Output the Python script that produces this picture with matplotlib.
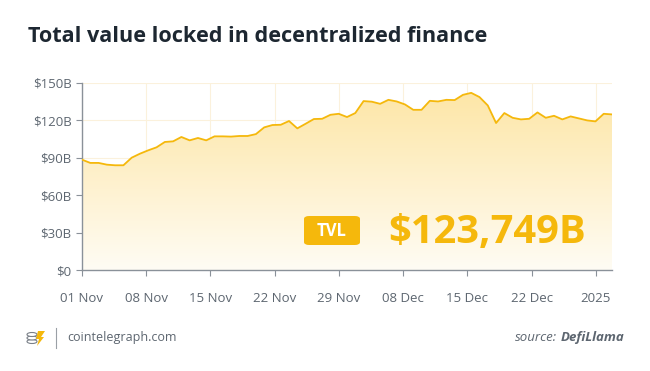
import numpy as np
import matplotlib.pyplot as plt
from matplotlib.patches import FancyBboxPatch, Ellipse, Polygon
from matplotlib.colors import LinearSegmentedColormap

# TVL in billions USD, roughly one point per day from 01 Nov
tvl = [88.5, 85.9, 85.9, 84.5, 84.0, 84.0, 90.1, 93.3, 96.0, 98.4,
       102.7, 103.2, 106.7, 104.0, 105.9, 104.0, 107.2, 107.2, 107.0, 107.5,
       107.5, 109.0, 114.4, 116.3, 116.5, 119.5, 113.6, 117.3, 121.1, 121.3,
       124.5, 125.3, 122.7, 125.9, 135.5, 135.0, 133.3, 136.5, 135.2, 132.8,
       128.5, 128.5, 135.7, 135.2, 136.5, 136.3, 140.5, 142.1, 138.7, 132.0,
       117.9, 125.9, 122.1, 120.8, 121.3, 126.4, 122.1, 123.7, 120.8, 123.2,
       121.6, 120.0, 119.2, 125.3, 124.8]
tick_labels = ['01 Nov', '08 Nov', '15 Nov', '22 Nov', '29 Nov',
               '08 Dec', '15 Dec', '22 Dec', '2025']
y_ticks = [0, 30, 60, 90, 120, 150]
y_labels = ['$0', '$30B', '$60B', '$90B', '$120B', '$150B']
headline = '$123,749B'

yellow = '#f5b80c'
grey = '#5d6670'

plt.rcParams['font.family'] = ['Open Sans', 'DejaVu Sans']

fig = plt.figure(figsize=(6.5, 3.71), dpi=100)
fig.patch.set_facecolor('white')
ax = fig.add_axes([82 / 650, 1 - 270 / 371, 530 / 650, 187 / 371])

x = np.arange(len(tvl))
ax.plot(x, tvl, color=yellow, lw=1.3, zorder=3)
poly = ax.fill_between(x, tvl, 0, color='none', lw=0)

# vertical gradient under the line
grad = np.linspace(0, 1, 256).reshape(-1, 1)
cmap = LinearSegmentedColormap.from_list('g', ['#fffcf4', '#fde5a3'])
im = ax.imshow(grad, cmap=cmap, aspect='auto', origin='lower',
               extent=[0, len(tvl) - 1, 0, 150], zorder=2)
im.set_clip_path(poly.get_paths()[0], transform=ax.transData)

ax.set_xlim(0, len(tvl) - 1)
ax.set_ylim(0, 150)
tick_pos = np.arange(len(tick_labels)) * (len(tvl) - 1) / 8.25
ax.set_xticks(tick_pos)
ax.set_xticklabels(tick_labels)
ax.set_yticks(y_ticks)
ax.set_yticklabels(y_labels)
ax.grid(True, color='#fbf1dc', lw=0.8, zorder=1)
ax.set_axisbelow(True)
for s in ['top', 'right']:
    ax.spines[s].set_visible(False)
for s in ['left', 'bottom']:
    ax.spines[s].set_color('#8a9199')
    ax.spines[s].set_linewidth(1.0)
ax.tick_params(colors='#8a9199', labelcolor=grey, labelsize=9.5, length=4)
ax.tick_params(axis='x', pad=12)

# TVL badge and headline number
badge = FancyBboxPatch((304 / 650, 1 - 245 / 371), 56 / 650, 29 / 371,
                       boxstyle='round,pad=0,rounding_size=0.008',
                       transform=fig.transFigure, facecolor=yellow,
                       edgecolor='none', zorder=1)
fig.patches.append(badge)
fig.text(332 / 650, 1 - 231 / 371, 'TVL', color='white', fontsize=12,
         fontweight='bold', ha='center', va='center', zorder=6)
fig.text(388 / 650, 1 - 232 / 371, headline, color=yellow, fontsize=28.7,
         fontweight='bold', ha='left', va='center', zorder=6)

# title
fig.text(28 / 650, 1 - 36 / 371, 'Total value locked in decentralized finance',
         color='#1d2731', fontsize=15.6, fontweight='bold', ha='left',
         va='center')

# footer
lx, ly = 32 / 650, 1 - 338 / 371
for i in range(3):
    fig.patches.append(Ellipse((lx, ly + (i - 1) * 3.5 / 371), 10 / 650,
                               4 / 371, transform=fig.transFigure,
                               facecolor='white', edgecolor='#7a8088',
                               lw=0.8))
fig.patches.append(Polygon([(38 / 650, 1 - 331 / 371), (45 / 650, 1 - 331 / 371),
                            (41 / 650, 1 - 337 / 371), (44 / 650, 1 - 337 / 371),
                            (37 / 650, 1 - 346 / 371), (39 / 650, 1 - 339 / 371),
                            (36 / 650, 1 - 339 / 371)],
                           closed=True, transform=fig.transFigure,
                           facecolor=yellow, edgecolor='none'))
fig.add_artist(plt.Line2D([56 / 650, 56 / 650], [1 - 328 / 371, 1 - 348 / 371],
                          color='#9aa0a6', lw=0.8))
fig.text(67 / 650, 1 - 337 / 371, 'cointelegraph.com', color=grey,
         fontsize=9, ha='left', va='center')

src_b = fig.text(624 / 650, 1 - 341 / 371, 'DefiLlama', color=grey,
                 fontsize=9.5, style='italic', fontweight='bold',
                 ha='right', va='baseline')
fig.canvas.draw()
bb = src_b.get_window_extent()
fig.text(bb.x0 / fig.bbox.width - 3 / 650, 1 - 341 / 371, 'source:',
         color=grey, fontsize=9.5, style='italic', ha='right', va='baseline')

fig.savefig('out.png', dpi=100)
